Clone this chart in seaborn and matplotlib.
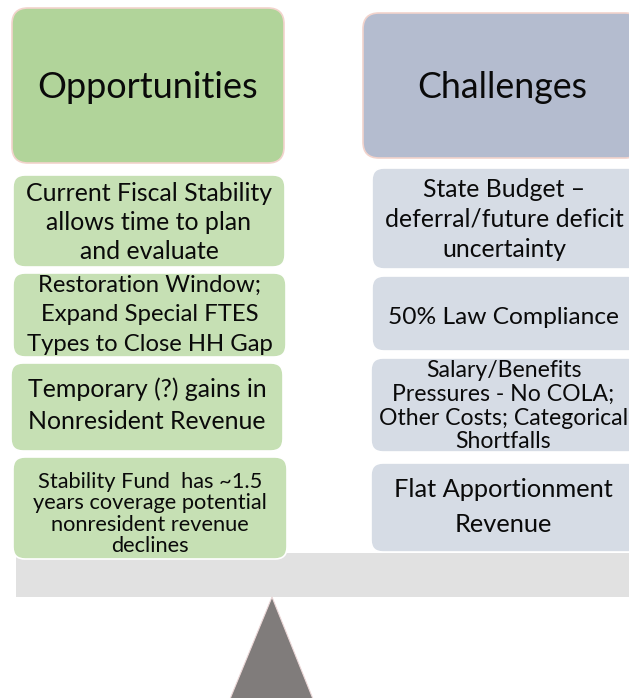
import matplotlib
matplotlib.use("Agg")
import matplotlib.pyplot as plt
import seaborn as sns
from matplotlib.patches import FancyBboxPatch, Polygon, Rectangle

sns.set_theme(style="white")
plt.rcParams['font.family'] = ['Lato', 'DejaVu Sans']

# ---- content ----
header_labels = ["Opportunities", "Challenges"]
opportunities = [
    "Current Fiscal Stability\nallows time to plan\nand evaluate",
    "Restoration Window;\nExpand Special FTES\nTypes to Close HH Gap",
    "Temporary (?) gains in\nNonresident Revenue",
    "Stability Fund  has ~1.5\nyears coverage potential\nnonresident revenue\ndeclines",
]
challenges = [
    "State Budget \u2013\ndeferral/future deficit\nuncertainty",
    "50% Law Compliance",
    "Salary/Benefits\nPressures - No COLA;\nOther Costs; Categorical\nShortfalls",
    "Flat Apportionment\nRevenue",
]

# ---- layout (pixels) ----
W, H = 629, 698
fig = plt.figure(figsize=(W / 100, H / 100), dpi=100)
ax = fig.add_axes([0, 0, 1, 1])
ax.set_xlim(0, W)
ax.set_ylim(H, 0)
ax.axis("off")
fig.canvas.draw()
renderer = fig.canvas.get_renderer()

GREEN_HEAD = "#b1d49a"
GREEN_BOX = "#c6e0b4"
BLUE_HEAD = "#b4bccf"
BLUE_BOX = "#d6dce5"
BEAM = "#e1e1e1"
PIVOT = "#807c7b"
CAP = 0.717  # cap height / em for Lato


def rbox(x0, y0, x1, y1, fc, ec="white", r=12, lw=1.2, z=2):
    p = FancyBboxPatch((x0, y0), x1 - x0, y1 - y0,
                       boxstyle=f"round,pad=0,rounding_size={r}",
                       fc=fc, ec=ec, lw=lw, zorder=z)
    ax.add_patch(p)


def fit_lines(cx, cy, s, target_w, spacing, z=6):
    lines = s.split("\n")
    # measure widest line at reference size
    widths = []
    for ln in lines:
        t = ax.text(0, 0, ln, fontsize=20)
        widths.append(t.get_window_extent(renderer).width)
        t.remove()
    fs = 20 * target_w / max(widths)
    fs_px = fs * 100 / 72
    n = len(lines)
    for i, ln in enumerate(lines):
        yc = cy + (i - (n - 1) / 2) * spacing
        ax.text(cx, yc + CAP * fs_px / 2, ln, ha="center", va="baseline",
                fontsize=fs, color="#0a0a0a", zorder=z)


# headers
rbox(12, 8, 284, 163, GREEN_HEAD, ec="#f2d3cc", r=16)
fit_lines(148, 85, header_labels[0], 221, 0)
rbox(363, 13, 641, 158, BLUE_HEAD, ec="#f2d3cc", r=16)
fit_lines(502, 85, header_labels[1], 170, 0)

# beam
ax.add_patch(Rectangle((16, 553), W, 44, fc=BEAM, ec="none", zorder=1))

# opportunity boxes
g_boxes = [(13, 175, 285, 267), (13, 273, 286, 357), (11, 363, 283, 451), (13, 457, 287, 559)]
g_widths = [247, 246, 240, 235]
g_space = [29, 29.5, 32, 21.5]
g_cy = [221, 312.5, 404, 512]
for (x0, y0, x1, y1), s, tw, sp, cy in zip(g_boxes, opportunities, g_widths, g_space, g_cy):
    rbox(x0, y0, x1, y1, GREEN_BOX, z=3)
    fit_lines((x0 + x1) / 2, cy, s, tw, sp)

# challenge boxes
b_boxes = [(372, 168, 640, 269), (372, 276, 640, 351), (371, 358, 640, 452), (371, 463, 640, 552)]
b_widths = [239, 231, 249, 220]
b_space = [30, 0, 23.7, 35]
b_cy = [218, 315, 404.5, 505]
for (x0, y0, x1, y1), s, tw, sp, cy in zip(b_boxes, challenges, b_widths, b_space, b_cy):
    rbox(x0, y0, x1, y1, BLUE_BOX, z=3)
    fit_lines((x0 + x1) / 2 - 2, cy, s, tw, sp)

# fulcrum
ax.add_patch(Polygon([(230, 699), (272, 597), (313, 699)], closed=True,
                     fc=PIVOT, ec="#ecd8d8", lw=0.8, zorder=2))

fig.savefig("out.png", dpi=100)
